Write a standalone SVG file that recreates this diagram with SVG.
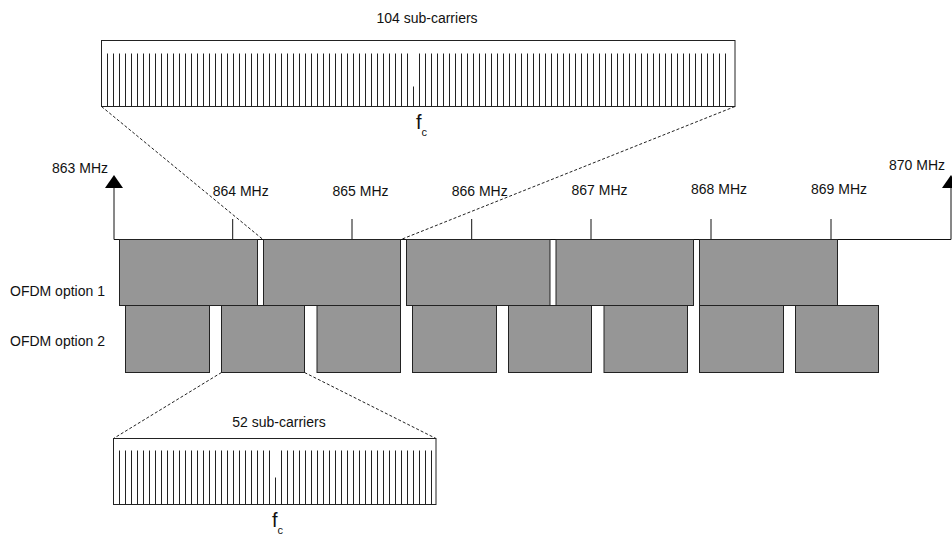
<svg xmlns="http://www.w3.org/2000/svg" width="952" height="536" viewBox="0 0 952 536">
<style>
text{font-family:"Liberation Sans",Arial,sans-serif;font-size:14px;fill:#111}
.blk{fill:#969696;stroke:#222;stroke-width:1}
.box{fill:#fff;stroke:#222;stroke-width:1}
.sc{fill:none;stroke:#222;stroke-width:1}
.ax{fill:none;stroke:#111;stroke-width:1}
.dash{fill:none;stroke:#222;stroke-width:1;stroke-dasharray:3 2}
.arr{fill:#000}
</style>
<rect width="952" height="536" fill="#fff"/>
<g id="axis">
<path class="ax" d="M114 239.5H951M114 239.5V186M951 239.5V186"/>
<polygon class="arr" points="114,175 123,188 105,188"/>
<polygon class="arr" points="951,175 960,188 942,188"/>
<path class="ax" d="M232.7 219V239M352 219V239M471.7 219V239M591 219V239M711 219V239M831 219V239"/>
<text x="52" y="172.5">863 MHz</text>
<text x="889" y="170">870 MHz</text>
<text x="212.7" y="195.5">864 MHz</text>
<text x="332.5" y="195.5">865 MHz</text>
<text x="451.7" y="195.5">866 MHz</text>
<text x="571.5" y="195">867 MHz</text>
<text x="691" y="193.5">868 MHz</text>
<text x="811" y="193.5">869 MHz</text>
</g>
<g id="option1">
<text x="10" y="296">OFDM option 1</text>
<rect class="blk" x="119.5" y="239.5" width="138" height="66"/>
<rect class="blk" x="263.5" y="239.5" width="137" height="66"/>
<rect class="blk" x="406.5" y="239.5" width="143.5" height="66"/>
<rect class="blk" x="556" y="239.5" width="137.5" height="66"/>
<rect class="blk" x="699.5" y="239.5" width="138" height="66"/>
</g>
<g id="option2">
<text x="10" y="346">OFDM option 2</text>
<rect class="blk" x="125.5" y="305.5" width="84" height="67"/>
<rect class="blk" x="221.5" y="305.5" width="83" height="67"/>
<rect class="blk" x="317" y="305.5" width="83.5" height="67"/>
<rect class="blk" x="412.5" y="305.5" width="84" height="67"/>
<rect class="blk" x="508.5" y="305.5" width="83" height="67"/>
<rect class="blk" x="604" y="305.5" width="83.5" height="67"/>
<rect class="blk" x="699.5" y="305.5" width="84" height="67"/>
<rect class="blk" x="795.5" y="305.5" width="83" height="67"/>
</g>
<g id="connectors">
<path class="dash" d="M101.5 106.5L263 239.5M735 106.5L401 239.5M221.5 372.5L113.5 438.5M304.5 372.5L436 438.5"/>
</g>
<g id="spectrum104">
<text x="427" y="23.3" text-anchor="middle">104 sub-carriers</text>
<rect class="box" x="101.5" y="40.5" width="633.5" height="66"/>
<path class="sc" d="M107.5 53.5v53m6-53v53m6-53v53m6-53v53m6-53v53m6-53v53m6-53v53m6-53v53m6-53v53m6-53v53m6-53v53m6-53v53m6-53v53m6-53v53m6-53v53m6-53v53m6-53v53m6-53v53m6-53v53m6-53v53m6-53v53m6-53v53m6-53v53m6-53v53m6-53v53m6-53v53m6-53v53m6-53v53m6-53v53m6-53v53m6-53v53m6-53v53m6-53v53m6-53v53m6-53v53m6-53v53m6-53v53m6-53v53m6-53v53m6-53v53m6-53v53m6-53v53m6-53v53m6-53v53m6-53v53m6-53v53m6-53v53m6-53v53m6-53v53m6-53v53m6-53v53m6-20v20m6-53v53m6-53v53m6-53v53m6-53v53m6-53v53m6-53v53m6-53v53m6-53v53m6-53v53m6-53v53m6-53v53m6-53v53m6-53v53m6-53v53m6-53v53m6-53v53m6-53v53m6-53v53m6-53v53m6-53v53m6-53v53m6-53v53m6-53v53m6-53v53m6-53v53m6-53v53m6-53v53m6-53v53m6-53v53m6-53v53m6-53v53m6-53v53m6-53v53m6-53v53m6-53v53m6-53v53m6-53v53m6-53v53m6-53v53m6-53v53m6-53v53m6-53v53m6-53v53m6-53v53m6-53v53m6-53v53m6-53v53m6-53v53m6-53v53m6-53v53m6-53v53m6-53v53"/>
<text x="416" y="128.5" style="font-size:20px">f<tspan dy="7" style="font-size:11px">c</tspan></text>
</g>
<g id="spectrum52">
<text x="279" y="426.5" text-anchor="middle">52 sub-carriers</text>
<rect class="box" x="113.5" y="438.5" width="322.5" height="66"/>
<path class="sc" d="M119.5 450.5v54m6-54v54m6-54v54m6-54v54m6-54v54m6-54v54m6-54v54m6-54v54m6-54v54m6-54v54m6-54v54m6-54v54m6-54v54m6-54v54m6-54v54m6-54v54m6-54v54m6-54v54m6-54v54m6-54v54m6-54v54m6-54v54m6-54v54m6-54v54m6-54v54m6-54v54m6-27v27m6-54v54m6-54v54m6-54v54m6-54v54m6-54v54m6-54v54m6-54v54m6-54v54m6-54v54m6-54v54m6-54v54m6-54v54m6-54v54m6-54v54m6-54v54m6-54v54m6-54v54m6-54v54m6-54v54m6-54v54m6-54v54m6-54v54m6-54v54m6-54v54m6-54v54m6-54v54"/>
<text x="272" y="527" style="font-size:20px">f<tspan dy="7" style="font-size:11px">c</tspan></text>
</g>
</svg>
